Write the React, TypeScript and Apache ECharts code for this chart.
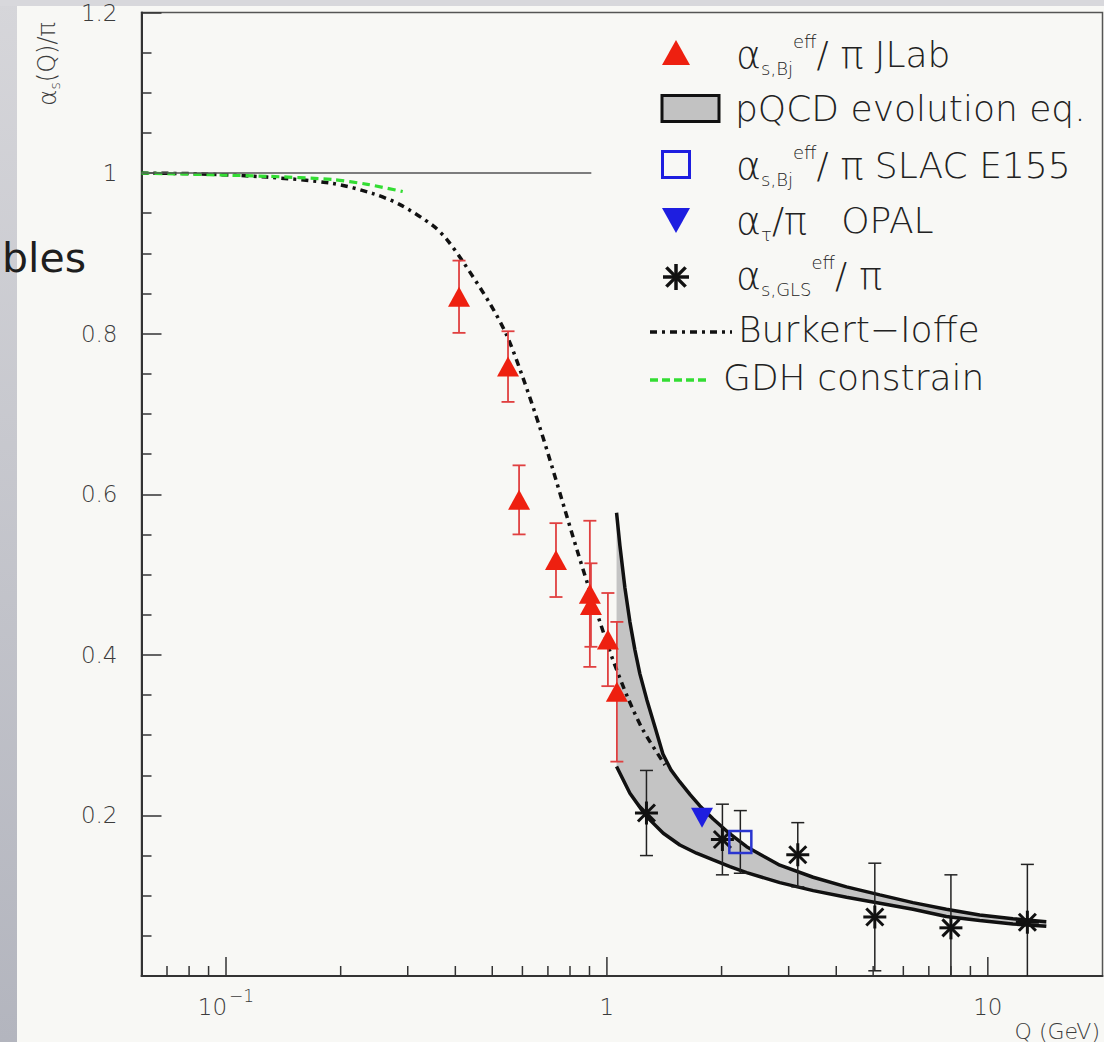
import React, { useEffect, useRef } from 'react';
import * as echarts from 'echarts';

// ---- measurements: effective strong coupling alpha_s / pi versus Q (GeV) ----
const jlabQ = [0.409, 0.55, 0.588, 0.735, 0.902, 0.908, 1.006, 1.062];
const jlabAlpha = [0.846, 0.759, 0.593, 0.518, 0.476, 0.462, 0.419, 0.354];
const jlabErr = [0.045, 0.044, 0.043, 0.046, 0.091, 0.052, 0.058, 0.087];

const glsQ = [1.27, 2.01, 3.17, 5.05, 8.0, 12.7];
const glsAlpha = [0.203, 0.17, 0.151, 0.0735, 0.06, 0.067];
const glsErr = [0.053, 0.044, 0.04, 0.067, 0.066, 0.072];

const e155Q = [2.24];
const e155Alpha = [0.167];
const e155Err = [0.039];

const opalQ = [1.777];
const opalAlpha = [0.197];

// ---- pQCD evolution band (upper and lower edges) ----
const pqcdUpperQ = [1.06, 1.0818, 1.1148, 1.149, 1.1843, 1.2206, 1.2733, 1.3365, 1.4028, 1.4724, 1.5543, 1.6557, 1.7544, 1.9012, 2.1043, 2.327, 2.571, 2.844, 3.479, 4.256, 5.206, 6.36, 7.78, 9.52, 11.64, 14.24];
const pqcdUpper = [0.577, 0.5358, 0.4835, 0.4411, 0.4062, 0.3763, 0.3439, 0.3103, 0.2766, 0.2567, 0.2417, 0.2255, 0.2118, 0.1956, 0.1769, 0.161, 0.1495, 0.138, 0.123, 0.111, 0.101, 0.0914, 0.0831, 0.076, 0.0714, 0.0677];
const pqcdLowerQ = [1.06, 1.149, 1.271, 1.406, 1.554, 1.719, 1.901, 2.104, 2.327, 2.844, 3.479, 4.256, 5.206, 6.36, 7.78, 9.52, 11.64, 14.24];
const pqcdLower = [0.261, 0.2277, 0.1985, 0.1778, 0.1632, 0.1529, 0.1445, 0.1362, 0.1287, 0.1163, 0.1063, 0.098, 0.0906, 0.0831, 0.074, 0.069, 0.0648, 0.062];

// ---- models ----
const burkertQ = [0.06, 0.0855, 0.1281, 0.1909, 0.243, 0.2862, 0.3494, 0.3802, 0.4188, 0.4931, 0.5464, 0.6018, 0.667, 0.7216, 0.7756, 0.8343, 0.8862, 0.9585, 1.0369, 1.1353, 1.2432, 1.4201];
const burkert = [1.0, 0.999, 0.995, 0.987, 0.9745, 0.9607, 0.9346, 0.9171, 0.8897, 0.8374, 0.7975, 0.7452, 0.6829, 0.6305, 0.5807, 0.5308, 0.491, 0.4411, 0.3938, 0.3464, 0.3065, 0.2629];
const gdhQ = [0.06, 0.128, 0.19, 0.235, 0.291];
const gdh = [1.0, 0.996, 0.992, 0.986, 0.977];
const unityQ = [0.06, 0.91];
const unity = [1, 1];

// ---- axis ticks ----
const xMajorTicks = [0.1, 1, 10];
const xMinorTicks = [0.07, 0.08, 0.09, 0.2, 0.3, 0.4, 0.5, 0.6, 0.7, 0.8, 0.9, 2, 3, 4, 5, 6, 7, 8, 9];

const RED = '#ee2010';
const RED_BAR = '#e04040';
const BLUE = '#1e1ee0';
const GREEN = '#33dd33';
const BAND = '#c4c4c4';
const INK = '#111111';
const TEXT = '#222222';
const LABEL = '#3c3c3c';
const SANS = 'DejaVu Sans';
const LIGHT = 300;

const pairs = (qs: number[], vs: number[]) => qs.map((q, i) => [q, vs[i]]);
const triples = (qs: number[], vs: number[], es: number[]) => qs.map((q, i) => [q, vs[i], es[i]]);

const errorBars = (color: string, cap: number, width: number) => (_p: any, api: any) => {
  const q = api.value(0);
  const v = api.value(1);
  const e = api.value(2);
  const top = api.coord([q, v + e]);
  const bot = api.coord([q, v - e]);
  const style = { stroke: color, lineWidth: width };
  return {
    type: 'group',
    children: [
      { type: 'line', shape: { x1: top[0], y1: top[1], x2: bot[0], y2: bot[1] }, style },
      { type: 'line', shape: { x1: top[0] - cap, y1: top[1], x2: top[0] + cap, y2: top[1] }, style },
      { type: 'line', shape: { x1: bot[0] - cap, y1: bot[1], x2: bot[0] + cap, y2: bot[1] }, style },
    ],
  };
};

const starLines = (cx: number, cy: number, r: number, width: number) => {
  const d = r * 0.74;
  const arms = [
    [0, -r, 0, r],
    [-r, 0, r, 0],
    [-d, -d, d, d],
    [-d, d, d, -d],
  ];
  return arms.map((a) => ({
    type: 'line',
    shape: { x1: cx + a[0], y1: cy + a[1], x2: cx + a[2], y2: cy + a[3] },
    style: { stroke: INK, lineWidth: width },
  }));
};

const tickSeries = (values: number[], len: number) => ({
  type: 'custom',
  silent: true,
  z: 6,
  data: values.map((q) => [q, 0]),
  renderItem: (_p: any, api: any) => {
    const c = api.coord([api.value(0), 0]);
    return {
      type: 'line',
      shape: { x1: c[0], y1: c[1], x2: c[0], y2: c[1] - len },
      style: { stroke: '#333', lineWidth: 1.5 },
    };
  },
});

const legendRich = {
  m: { fontFamily: SANS, fontWeight: LIGHT, fontSize: 36, lineHeight: 45, fill: TEXT },
  g: { fontFamily: SANS, fontWeight: LIGHT, fontSize: 38, lineHeight: 45, fill: TEXT },
  gp: { fontFamily: SANS, fontWeight: LIGHT, fontSize: 38, lineHeight: 45, fill: TEXT, padding: [0, 0, 0, 12] },
  sb: { fontFamily: SANS, fontWeight: LIGHT, fontSize: 18, lineHeight: 18, verticalAlign: 'bottom', fill: TEXT },
  sp: { fontFamily: SANS, fontWeight: LIGHT, fontSize: 18, lineHeight: 18, verticalAlign: 'top', fill: TEXT },
};

const legendText = (text: string, x: number, y: number) => ({
  type: 'text',
  x,
  y,
  style: { text, rich: legendRich, align: 'left', verticalAlign: 'middle', fontFamily: SANS, fontWeight: LIGHT, fontSize: 36, fill: TEXT },
});

const isPow10 = (v: number) => Math.abs(Math.log10(v) - Math.round(Math.log10(v))) < 1e-6;

const option: any = {
  animation: false,
  backgroundColor: 'transparent',
  grid: {
    left: 141.5,
    right: 1.5,
    top: 12.5,
    bottom: 66,
    show: true,
    borderColor: '#555',
    borderWidth: 1.5,
    backgroundColor: 'transparent',
  },
  xAxis: {
    type: 'log',
    logBase: 10,
    min: 0.06,
    max: 20,
    axisLine: { show: true, onZero: false, lineStyle: { color: '#333', width: 2 } },
    axisTick: { show: false },
    minorTick: { show: false },
    splitLine: { show: false },
    minorSplitLine: { show: false },
    axisLabel: {
      showMinLabel: false,
      showMaxLabel: false,
      margin: 11,
      color: LABEL,
      formatter: (v: number) => {
        if (!isPow10(v)) return '';
        const p = Math.round(Math.log10(v));
        if (p === 0) return '{b|1}';
        if (p === 1) return '{b|10}';
        return '{b|10}{e|\u2212' + String(-p) + '}';
      },
      rich: {
        b: { fontFamily: SANS, fontWeight: LIGHT, fontSize: 23, lineHeight: 31, verticalAlign: 'bottom', color: LABEL },
        e: { fontFamily: SANS, fontWeight: LIGHT, fontSize: 17, lineHeight: 17, verticalAlign: 'top', padding: [0, 0, 0, 2], color: LABEL },
      },
    },
  },
  yAxis: {
    type: 'value',
    min: 0,
    max: 1.2,
    interval: 0.2,
    axisLine: { show: true, lineStyle: { color: '#333', width: 2 } },
    axisTick: { show: true, inside: true, length: 20, lineStyle: { color: '#333', width: 1.5 } },
    minorTick: { show: true, splitNumber: 4, length: 10, lineStyle: { color: '#333', width: 1.5 } },
    splitLine: { show: false },
    axisLabel: {
      showMinLabel: false,
      margin: 24,
      fontFamily: SANS,
      fontWeight: LIGHT,
      fontSize: 23,
      color: LABEL,
    },
  },
  graphic: [
    // slide edges behind the plot
    {
      type: 'rect',
      shape: { x: 0, y: 0, width: 17, height: 1042 },
      style: {
        fill: new echarts.graphic.LinearGradient(0, 0, 0, 1, [
          { offset: 0, color: '#d6d6da' },
          { offset: 1, color: '#b3b5be' },
        ]),
      },
    },
    { type: 'rect', shape: { x: 0, y: 0, width: 1104, height: 6 }, style: { fill: '#d8d8dc' } },
    {
      type: 'text',
      x: 86,
      y: 258,
      style: { text: 'bles', align: 'right', verticalAlign: 'middle', fontFamily: SANS, fontSize: 41, fill: '#1e1e1e' },
    },
    // axis titles
    {
      type: 'text',
      x: 47,
      y: 64,
      rotation: Math.PI / 2,
      style: {
        text: '{g|\u03b1}{sb|s}{m|(Q)/\u03c0}',
        align: 'center',
        verticalAlign: 'middle',
        fontFamily: SANS,
        fontSize: 24,
        fill: LABEL,
        rich: {
          m: { fontFamily: SANS, fontWeight: LIGHT, fontSize: 24, lineHeight: 30, fill: LABEL },
          g: { fontFamily: SANS, fontWeight: LIGHT, fontSize: 25, lineHeight: 30, fill: LABEL },
          sb: { fontFamily: SANS, fontWeight: LIGHT, fontSize: 14, lineHeight: 14, verticalAlign: 'bottom', fill: LABEL },
        },
      },
    },
    {
      type: 'text',
      x: 1100,
      y: 1031,
      style: { text: 'Q (GeV)', align: 'right', verticalAlign: 'middle', fontFamily: SANS, fontWeight: LIGHT, fontSize: 22, fill: LABEL },
    },
    // legend symbols
    { type: 'polygon', shape: { points: [[662, 65], [690, 65], [676, 40]] }, style: { fill: RED } },
    { type: 'rect', shape: { x: 662, y: 95.5, width: 57, height: 26 }, style: { fill: '#c2c2c2', stroke: INK, lineWidth: 3 } },
    { type: 'rect', shape: { x: 662.5, y: 151.5, width: 27, height: 26 }, style: { fill: 'none', stroke: BLUE, lineWidth: 3 } },
    { type: 'polygon', shape: { points: [[662, 208], [690, 208], [676, 233]] }, style: { fill: BLUE } },
    { type: 'group', children: starLines(676, 277, 13, 3.5) },
    { type: 'line', shape: { x1: 650, y1: 332, x2: 732, y2: 332 }, style: { stroke: INK, lineWidth: 3.5, lineDash: [7, 5, 3, 5] } },
    { type: 'line', shape: { x1: 650, y1: 380, x2: 708, y2: 380 }, style: { stroke: GREEN, lineWidth: 3.5, lineDash: [8, 4] } },
    // legend labels
    legendText('{g|\u03b1}{sb|s,Bj}{sp|eff}{m|/}{gp|\u03c0}{m| JLab}', 736, 54.5),
    legendText('{m|pQCD evolution eq.}', 735, 108.5),
    legendText('{g|\u03b1}{sb|s,Bj}{sp|eff}{m|/}{gp|\u03c0}{m| SLAC E155}', 736, 165.5),
    legendText('{g|\u03b1}{sb|\u03c4}{m|/}{g|\u03c0}{m|   OPAL}', 736, 220.5),
    legendText('{g|\u03b1}{sb|s,GLS}{sp|eff}{m|/}{gp|\u03c0}', 736, 275.5),
    legendText('{m|Burkert\u2212Ioffe}', 738, 329.5),
    legendText('{m|GDH constrain}', 723, 377.5),
  ],
  series: [
    tickSeries(xMajorTicks, 19),
    tickSeries(xMinorTicks, 10),
    {
      type: 'custom',
      name: 'pQCD evolution eq.',
      silent: true,
      z: 1,
      data: [[pqcdUpperQ[0], pqcdUpper[0]]],
      renderItem: (_p: any, api: any) => {
        const pts: number[][] = [];
        pqcdUpperQ.forEach((q, i) => pts.push(api.coord([q, pqcdUpper[i]])));
        for (let i = pqcdLowerQ.length - 1; i >= 0; i--) pts.push(api.coord([pqcdLowerQ[i], pqcdLower[i]]));
        return { type: 'polygon', shape: { points: pts }, style: { fill: BAND } };
      },
    },
    {
      type: 'line',
      name: 'Burkert-Ioffe',
      silent: true,
      z: 2,
      symbol: 'none',
      smooth: 0.3,
      data: pairs(burkertQ, burkert),
      lineStyle: { color: INK, width: 3.5, type: [7, 5, 3, 5] },
    },
    {
      type: 'line',
      name: 'GDH constrain',
      silent: true,
      z: 2,
      symbol: 'none',
      smooth: 0.25,
      data: pairs(gdhQ, gdh),
      lineStyle: { color: GREEN, width: 3.2, type: [8, 5] },
    },
    {
      type: 'line',
      silent: true,
      z: 2,
      symbol: 'none',
      data: pairs(unityQ, unity),
      lineStyle: { color: '#555', width: 1.5 },
    },
    {
      type: 'line',
      silent: true,
      z: 3,
      symbol: 'none',
      data: pairs(pqcdUpperQ, pqcdUpper),
      lineStyle: { color: INK, width: 3.5 },
    },
    {
      type: 'line',
      silent: true,
      z: 3,
      symbol: 'none',
      data: pairs(pqcdLowerQ, pqcdLower),
      lineStyle: { color: INK, width: 3.5 },
    },
    {
      type: 'custom',
      silent: true,
      clip: true,
      z: 4,
      data: triples(jlabQ, jlabAlpha, jlabErr),
      renderItem: errorBars(RED_BAR, 6.5, 1.8),
    },
    {
      type: 'custom',
      silent: true,
      clip: true,
      z: 4,
      data: triples(glsQ, glsAlpha, glsErr),
      renderItem: errorBars('#222', 6.5, 1.5),
    },
    {
      type: 'custom',
      silent: true,
      clip: true,
      z: 4,
      data: triples(e155Q, e155Alpha, e155Err),
      renderItem: errorBars('#222', 6.5, 1.5),
    },
    {
      type: 'scatter',
      name: 'JLab',
      silent: true,
      z: 5,
      symbol: 'triangle',
      symbolSize: [22, 20],
      data: pairs(jlabQ, jlabAlpha),
      itemStyle: { color: RED, opacity: 1 },
    },
    {
      type: 'scatter',
      name: 'OPAL',
      silent: true,
      z: 5,
      symbol: 'triangle',
      symbolRotate: 180,
      symbolSize: [22, 20],
      data: pairs(opalQ, opalAlpha),
      itemStyle: { color: BLUE, opacity: 1 },
    },
    {
      type: 'scatter',
      name: 'SLAC E155',
      silent: true,
      z: 5,
      symbol: 'rect',
      symbolSize: 22,
      data: pairs(e155Q, e155Alpha),
      itemStyle: { color: 'rgba(0,0,0,0)', borderColor: '#2a35d0', borderWidth: 2.5, opacity: 1 },
    },
    {
      type: 'custom',
      name: 'GLS',
      silent: true,
      z: 5,
      data: pairs(glsQ, glsAlpha),
      renderItem: (_p: any, api: any) => {
        const c = api.coord([api.value(0), api.value(1)]);
        return { type: 'group', children: starLines(c[0], c[1], 11.5, 3) };
      },
    },
  ],
};

export default function App() {
  const ref = useRef<HTMLDivElement>(null);
  useEffect(() => {
    if (!ref.current) return;
    const chart = echarts.init(ref.current, null, { renderer: 'svg', width: 1104, height: 1042 });
    chart.setOption(option);
    return () => chart.dispose();
  }, []);
  return (
    <div
      ref={ref}
      style={{ position: 'absolute', left: 0, top: 0, width: 1104, height: 1042, background: '#f8f8f5' }}
    />
  );
}
